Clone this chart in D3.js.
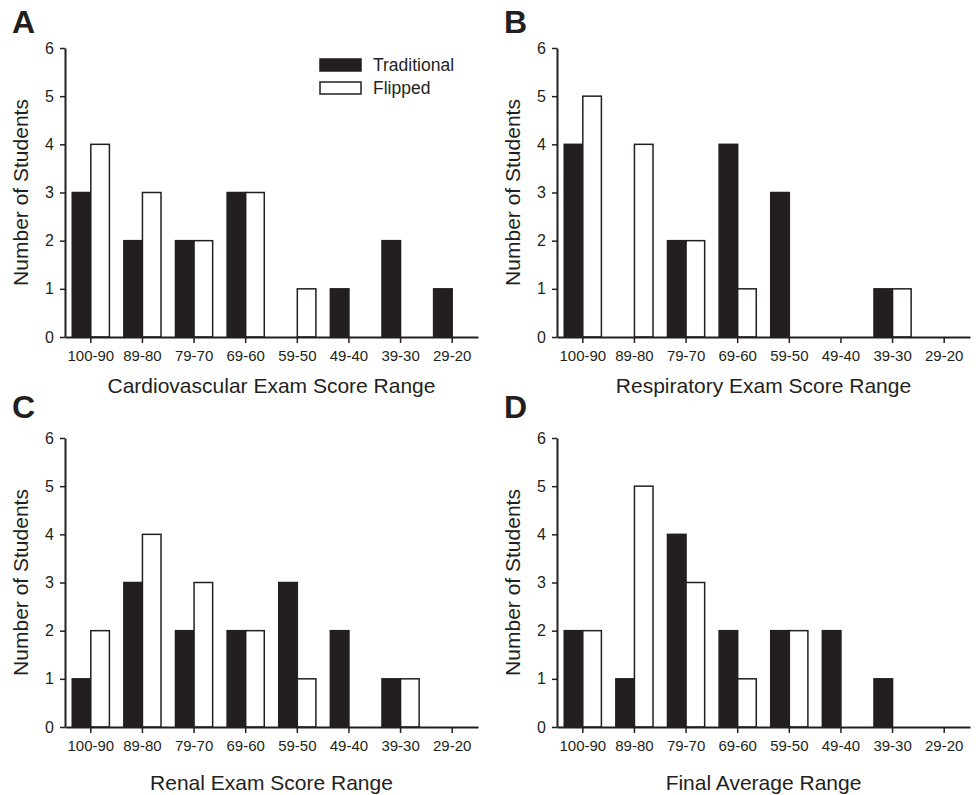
<!DOCTYPE html>
<html>
<head>
<meta charset="utf-8">
<script src="https://cdn.jsdelivr.net/npm/d3@7"></script>
<style>
  body { margin: 0; background: #fff; }
  svg { font-family: "Liberation Sans", Arial, sans-serif; }
</style>
</head>
<body>
<div id="chart"></div>
<script>
const categories = ['100-90', '89-80', '79-70', '69-60', '59-50', '49-40', '39-30', '29-20'];
const seriesNames = ['Traditional', 'Flipped'];
const yTicks = [0, 1, 2, 3, 4, 5, 6];

const cardioTrad = [3, 2, 2, 3, 0, 1, 2, 1];
const cardioFlip = [4, 3, 2, 3, 1, 0, 0, 0];
const respTrad = [4, 0, 2, 4, 3, 0, 1, 0];
const respFlip = [5, 4, 2, 1, 0, 0, 1, 0];
const renalTrad = [1, 3, 2, 2, 3, 2, 1, 0];
const renalFlip = [2, 4, 3, 2, 1, 0, 1, 0];
const finalTrad = [2, 1, 4, 2, 2, 2, 1, 0];
const finalFlip = [2, 5, 3, 1, 2, 0, 0, 0];

const panels = [
  { letter: 'A', title: 'Cardiovascular Exam Score Range', trad: cardioTrad, flip: cardioFlip, x: 0, y: 0, letterY: 33, titleY: 56, legend: true },
  { letter: 'B', title: 'Respiratory Exam Score Range', trad: respTrad, flip: respFlip, x: 492, y: 0, letterY: 33, titleY: 56 },
  { letter: 'C', title: 'Renal Exam Score Range', trad: renalTrad, flip: renalFlip, x: 0, y: 390, letterY: 28, titleY: 63 },
  { letter: 'D', title: 'Final Average Range', trad: finalTrad, flip: finalFlip, x: 492, y: 390, letterY: 28, titleY: 63 }
];

const W = 980, H = 795;
const svg = d3.select('#chart').append('svg')
  .attr('width', W).attr('height', H);

// plot box inside each panel (panel-local coords)
const box = { left: 65, right: 478, top: 48, bottom: 337 };

panels.forEach(p => {
  const g = svg.append('g').attr('transform', `translate(${p.x},${p.y})`);

  const x = d3.scaleBand().domain(categories).range([box.left, box.right]).paddingInner(0.28).paddingOuter(0.14);
  const xs = d3.scaleBand().domain(seriesNames).range([0, x.bandwidth()]);
  const y = d3.scaleLinear().domain([0, 6]).range([box.bottom, box.top]);

  const rows = categories.map((c, i) => ({ cat: c, Traditional: p.trad[i], Flipped: p.flip[i] }));

  const grp = g.append('g').selectAll('g').data(rows).join('g')
    .attr('transform', d => `translate(${x(d.cat)},0)`);
  grp.selectAll('rect')
    .data(d => seriesNames.map(s => ({ s, v: d[s] })).filter(e => e.v > 0))
    .join('rect')
    .attr('x', e => xs(e.s))
    .attr('y', e => y(e.v))
    .attr('width', xs.bandwidth())
    .attr('height', e => y(0) - y(e.v))
    .attr('fill', e => e.s === 'Traditional' ? '#231f20' : '#fff')
    .attr('stroke', '#231f20')
    .attr('stroke-width', 1.5);

  // y axis
  const ya = g.append('g').attr('transform', `translate(${box.left},0)`)
    .call(d3.axisLeft(y).tickValues(yTicks).tickFormat(d3.format('d')).tickSize(5).tickSizeOuter(0).tickPadding(6));
  // x axis
  const xa = g.append('g').attr('transform', `translate(0,${box.bottom})`)
    .call(d3.axisBottom(x).tickSize(6).tickSizeOuter(0).tickPadding(7));
  [ya, xa].forEach(a => {
    a.attr('font-family', null);
    a.select('.domain').attr('stroke', '#231f20').attr('stroke-width', 2);
    a.selectAll('.tick line').attr('stroke', '#231f20').attr('stroke-width', 1.5);
    a.selectAll('.tick text').attr('fill', '#231f20');
  });
  ya.selectAll('.tick text').style('font-size', '16px');
  xa.selectAll('.tick text').style('font-size', '15px');

  g.append('text')
    .attr('x', (box.left + box.right) / 2)
    .attr('y', box.bottom + p.titleY)
    .attr('text-anchor', 'middle')
    .attr('fill', '#231f20')
    .style('font-size', '21px')
    .text(p.title);

  g.append('text')
    .attr('transform', `translate(28,${(box.top + box.bottom) / 2}) rotate(-90)`)
    .attr('text-anchor', 'middle')
    .attr('fill', '#231f20')
    .style('font-size', '21px')
    .text('Number of Students');

  g.append('text')
    .attr('x', 12).attr('y', p.letterY)
    .attr('fill', '#231f20')
    .style('font-size', '32px').style('font-weight', 'bold')
    .text(p.letter);

  if (p.legend) {
    const lg = g.append('g').attr('transform', 'translate(320,59)');
    seriesNames.forEach((s, i) => {
      lg.append('rect')
        .attr('x', 0).attr('y', i * 23)
        .attr('width', 41).attr('height', 12)
        .attr('fill', s === 'Traditional' ? '#231f20' : '#fff')
        .attr('stroke', '#231f20').attr('stroke-width', 1.5);
      lg.append('text')
        .attr('x', 53).attr('y', i * 23 + 12)
        .attr('fill', '#231f20')
        .style('font-size', '17.5px')
        .text(s);
    });
  }
});
</script>
</body>
</html>
